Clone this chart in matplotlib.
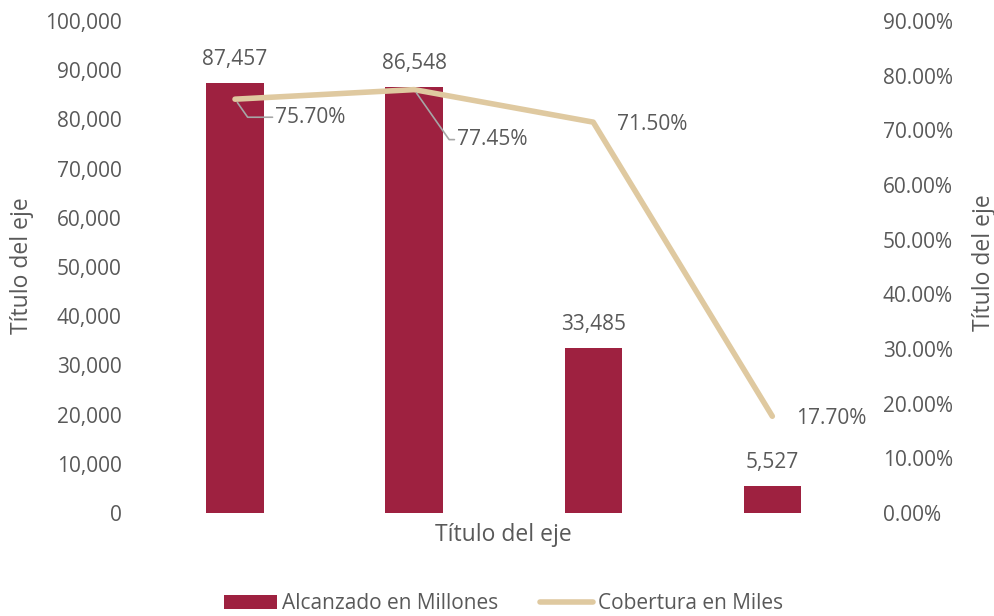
import matplotlib.pyplot as plt
import numpy as np

categories = ["1", "2", "3", "4"]
alcanzado = [87457, 86548, 33485, 5527]
cobertura = [75.70, 77.45, 71.50, 17.70]

left_ticks = list(range(0, 100001, 10000))
right_ticks = list(range(0, 91, 10))

plt.rcParams['font.family'] = ['Open Sans', 'DejaVu Sans']
gray = "#595959"
bar_color = "#9E2140"
line_color = "#DFC9A0"
W, H = 995, 616


def main():
    fig = plt.figure(figsize=(W / 100, H / 100), dpi=100)
    ax = fig.add_axes([0.1462, 0.1672, 0.72, 0.7987])
    ax2 = ax.twinx()

    x = np.arange(len(categories))
    bars = ax.bar(x, alcanzado, width=0.32, color=bar_color, label="Alcanzado en Millones", zorder=2)
    ax.set_xlim(-0.5, len(categories) - 0.5)
    ax.set_ylim(0, 100000)
    ax.set_yticks(left_ticks)
    ax.set_yticklabels([f"{v:,}" for v in left_ticks])
    ax.set_xticks([])

    for b, v in zip(bars, alcanzado):
        ax.annotate(f"{v:,}", (b.get_x() + b.get_width() / 2, v), xytext=(0, 17),
                    textcoords="offset points", ha="center", va="center",
                    fontsize=15, color=gray)

    line, = ax2.plot(x, cobertura, color=line_color, lw=4, label="Cobertura en Miles",
                     solid_capstyle="round", zorder=3)
    ax2.set_ylim(0, 90)
    ax2.set_yticks(right_ticks)
    ax2.set_yticklabels([f"{v:.2f}%" for v in right_ticks])

    # data labels for the line (offsets in points)
    offsets = [(29, -13), (31, -36), (17, -1.5), (17, -1.5)]
    leaders = [True, True, False, False]
    for xi, v, off, lead in zip(x, cobertura, offsets, leaders):
        if lead:
            ax2.annotate(f"{v:.2f}%", (xi, v), xytext=off, textcoords="offset points",
                         ha="left", va="center", fontsize=15, color=gray,
                         arrowprops=dict(arrowstyle="-", color="#A6A6A6", lw=1.2,
                                         shrinkA=0, shrinkB=3,
                                         connectionstyle="angle,angleA=0,angleB=-55,rad=0"))
        else:
            ax2.annotate(f"{v:.2f}%", (xi, v), xytext=off, textcoords="offset points",
                         ha="left", va="center", fontsize=15, color=gray)

    for a in (ax, ax2):
        for s in a.spines.values():
            s.set_visible(False)
        a.tick_params(length=0, labelsize=15, labelcolor=gray)
    ax.tick_params(pad=17)
    ax2.tick_params(pad=15)

    # axis titles
    fig.text(22 / W, 1 - 266 / H, "Título del eje", rotation=90, ha="center", va="center",
             fontsize=16.5, color=gray)
    fig.text(984 / W, 1 - 263 / H, "Título del eje", rotation=90, ha="center", va="center",
             fontsize=16.5, color=gray)
    fig.text(503 / W, 1 - 535 / H, "Título del eje", ha="center", va="center",
             fontsize=16.5, color=gray)

    fig.legend(handles=[bars, line], loc="center", bbox_to_anchor=(0.506, 0.0195),
               ncol=2, frameon=False, fontsize=15, labelcolor=gray,
               handlelength=2.55, handletextpad=0.25, columnspacing=2.0)

    fig.savefig("out.png", dpi=100)


if __name__ == '__main__':
    main()
